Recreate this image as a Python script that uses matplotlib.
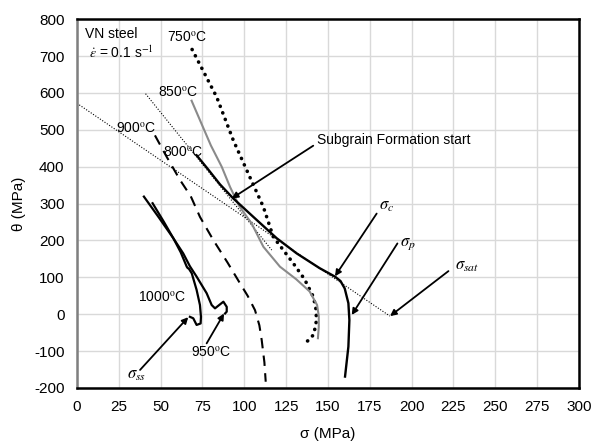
import matplotlib.pyplot as plt
import numpy as np

plt.rcParams['font.family'] = ['Liberation Sans', 'DejaVu Sans']
plt.rcParams['mathtext.fontset'] = 'stix'
plt.rcParams['axes.unicode_minus'] = False

# theta - sigma curves for each deformation temperature
s750 = [68.8, 83.5, 93.4, 104, 111.4, 117.3, 129.3, 136, 141.3, 143, 143, 141.5, 138, 134.5]
t750 = [718, 589, 472, 365, 291, 210, 138, 95, 47, 10, -20, -55, -72, -80]

s850 = [68.5, 80, 86.5, 91.5, 97, 104.4, 111.4, 121.3, 131, 139, 143.5, 144.5, 144.5, 144]
t850 = [579, 458, 400, 345, 293, 246, 183, 129, 95, 62, 25, -5, -35, -65]

s800 = [71.5, 78, 85.5, 93.4, 105.4, 119.4, 131.3, 145, 151, 154.2, 157.5, 160, 162.2, 162.8, 162.2, 160.2]
t800 = [431, 395, 352, 314, 264, 206, 165, 125, 110, 102, 90, 70, 30, -16, -88, -169]

s900 = [46.6, 53.6, 61.6, 68, 73.5, 81.5, 90, 97.4, 102, 106.4, 109, 110.4, 112, 112.8]
t900 = [485, 427, 364, 320, 264, 201, 140, 84, 50, 11, -30, -70, -130, -183]

s950 = [45.2, 52, 57.6, 63.5, 67.5, 71.5, 77.5, 80.5, 82.5, 85, 87.5, 89.5, 89.5, 88.5]
t950 = [301, 250, 206, 165, 130, 102, 57, 25, 16, 25, 34, 20, 7, 2]

s1000 = [40, 49, 57.6, 62, 65.6, 66.2, 66.8, 68.6, 71.5, 73.5, 74.1, 73.9, 71.5, 69.5, 67.5]
t1000 = [319, 262, 206, 168, 129, 125, 124, 111, 66, 25, -7, -25, -29, -11, -7]

# construction lines
tan1_s = [0, 187]
tan1_t = [572, -5]
tan2_s = [41, 116.4]
tan2_t = [598, 174]

fig = plt.figure(figsize=(5.92, 4.47), dpi=100)
ax = fig.add_axes([0.130, 0.132, 0.848, 0.825])

ax.plot(tan1_s, tan1_t, color='black', lw=0.8, ls=(0, (1, 1.5)))
ax.plot(tan2_s, tan2_t, color='black', lw=0.8, ls=(0, (1, 1.5)))

ax.plot(s750, t750, color='black', lw=2.6, ls=(0, (0.05, 1.9)), dash_capstyle='round')
ax.plot(s850, t850, color='#8a8a8a', lw=1.5)
ax.plot(s800, t800, color='black', lw=1.7)
ax.plot(s900, t900, color='black', lw=1.5, ls=(0, (5, 3.5)))
ax.plot(s950, t950, color='black', lw=1.6)
ax.plot(s1000, t1000, color='black', lw=1.6)

ax.set_xlim(0, 300)
ax.set_ylim(-200, 800)
ax.set_xticks(np.arange(0, 301, 25))
ax.set_yticks(np.arange(-200, 801, 100))
ax.grid(True, color='#d9d9d9', lw=1)
ax.set_axisbelow(True)
ax.tick_params(length=0, pad=9, labelsize=11)

for side in ['top', 'right', 'bottom']:
    ax.spines[side].set_linewidth(1.8)
    ax.spines[side].set_color('black')
ax.spines['left'].set_linewidth(1.8)
ax.spines['left'].set_color('#7f7f7f')

ax.set_xlabel('σ (MPa)', fontsize=11, labelpad=9)
ax.set_ylabel('θ (MPa)', fontsize=11, labelpad=6)

# labels
fs = 10
ax.text(5, 761, 'VN steel', fontsize=fs, va='center')
ax.text(7, 709, r'$\dot{\varepsilon}$ = 0.1 s$^{-1}$', fontsize=fs, va='center')
ax.text(53.6, 752, '750$^{\\rm o}$C', fontsize=fs, va='center')
ax.text(48.6, 603, '850$^{\\rm o}$C', fontsize=fs, va='center')
ax.text(23.3, 504, '900$^{\\rm o}$C', fontsize=fs, va='center')
ax.text(51.6, 440, '800$^{\\rm o}$C', fontsize=fs, va='center')
ax.text(36.6, 47, '1000$^{\\rm o}$C', fontsize=fs, va='center')
ax.text(68, -102, '950$^{\\rm o}$C', fontsize=fs, va='center')

arrow = dict(arrowstyle='-|>', color='black', lw=1.3, mutation_scale=9, shrinkA=0, shrinkB=0)
ax.annotate('', xy=(92.5, 314), xytext=(141.2, 457), arrowprops=arrow)
ax.text(143.3, 472, 'Subgrain Formation start', fontsize=fs, va='center')

ax.annotate('', xy=(154.2, 103), xytext=(179.1, 273), arrowprops=arrow)
ax.text(185, 293, r'$\sigma_c$', fontsize=12, va='center', ha='center')
ax.annotate('', xy=(164.2, -2), xytext=(191.5, 192), arrowprops=arrow)
ax.text(197.5, 190, r'$\sigma_p$', fontsize=12, va='center', ha='center')
ax.annotate('', xy=(187.1, -5), xytext=(222, 117), arrowprops=arrow)
ax.text(233, 129, r'$\sigma_{sat}$', fontsize=12, va='center', ha='center')

ax.annotate('', xy=(66.5, -8), xytext=(37.7, -151), arrowprops=arrow)
ax.text(35.5, -166, r'$\sigma_{ss}$', fontsize=12, va='center', ha='center')
ax.annotate('', xy=(87.9, 2), xytext=(77.5, -79), arrowprops=arrow)

plt.savefig('out.png', dpi=100)
